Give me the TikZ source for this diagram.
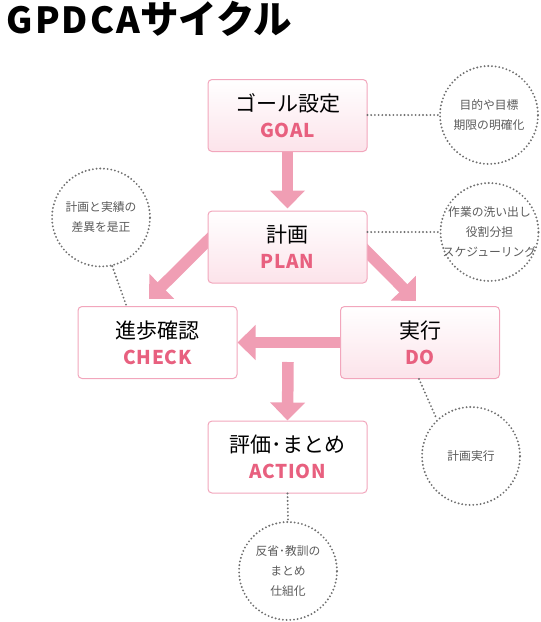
\documentclass[tikz,border=0pt]{standalone}
\usepackage{fontspec}
\usetikzlibrary{arrows.meta,calc,backgrounds}
\newfontfamily\jp{Noto Sans CJK JP}
\newfontfamily\jpancho[LetterSpace=4]{Noto Sans CJK JP}
\newfontfamily\jptitulo[LetterSpace=6]{Noto Sans CJK JP}
\definecolor{flecha}{HTML}{F09EB4}
\definecolor{borde}{HTML}{F2A6BC}
\definecolor{fondo}{HTML}{FCE3EA}
\definecolor{rosa}{HTML}{E8607F}
\definecolor{puntos}{HTML}{707070}
\definecolor{gris}{HTML}{5A5A5A}
\newcommand\etapa[2]{{\jp #1}\\{\jpancho\bfseries\color{rosa}\fontsize{19}{26}\selectfont #2}}

\begin{document}
\begin{tikzpicture}[x=1pt,y=-1pt,
    caja/.style={draw=borde,line width=1pt,rounded corners=4pt,fill=white,minimum width=159pt,
      minimum height=72pt,inner sep=0pt,align=center,font=\fontsize{21}{26}\selectfont},
    cajarosa/.style={caja,top color=white,bottom color=fondo},
    punteado/.style={draw=puntos,line width=2.1pt,line cap=round,dash pattern=on 0pt off 3.7pt},
    nota/.style={punteado,circle,minimum size=98pt,inner sep=0pt},
    textonota/.style={align=center,text=gris,inner sep=0pt,font=\jp\fontsize{11.8}{20}\selectfont},
    flechota/.style={draw=flecha,line width=11.5pt,-{Triangle[length=18pt,width=34pt]}}]
  \useasboundingbox (0,0) rectangle (541,622);
  \node[anchor=base west,font=\jptitulo\bfseries\fontsize{36}{40}\selectfont] (titulo) at (3,33)
    {GPDCA{\jp\bfseries\fontsize{38.5}{40}\selectfont サイクル}};

  % las cinco etapas
  \node[cajarosa] (goal) at (287.5,115.5) {\etapa{ゴール設定}{GOAL}};
  \node[cajarosa] (plan) at (287.5,247) {\etapa{計画}{PLAN}};
  \node[caja] (check) at (157.5,342.5) {\etapa{進歩確認}{CHECK}};
  \node[cajarosa] (do) at (420,342.5) {\etapa{実行}{DO}};
  \node[caja] (action) at (287.5,457) {\etapa{評価･まとめ}{ACTION}};
  \coordinate (eje) at (288,362);

  \begin{scope}[on background layer]
    \draw[flechota] (goal.center) -- ([yshift=2pt]plan.north);
    \draw[flechota] ($(plan.west)+(20,-26)$) -- ($(check.north)+(-8.5,-7)$);
    \draw[flechota] ($(plan.east)+(-21,-16)$) -- ($(do.north)+(-4,-5)$);
    \draw[flechota] (do.center) -- (check.east);
    \draw[flechota] (eje) -- (action.north);
  \end{scope}

  % notas punteadas
  \foreach \nombre/\lugar/\texto in {
      notaGoal/{489,115}/{目的や目標\\期限の明確化},
      notaPlan/{489.5,232}/{作業の洗い出し\\役割分担\\スケジューリング},
      notaCheck/{101,217.5}/{計画と実績の\\差異を是正},
      notaDo/{471,456}/{計画実行},
      notaAccion/{288,571}/{反省･教訓の\\まとめ\\仕組化}} {
    \node[nota] (\nombre) at (\lugar) {};
    \node[textonota] (\nombre-txt) at (\nombre) {\texto};
  }
  \draw[punteado] (goal.east |- notaGoal.west) -- (notaGoal.west);
  \draw[punteado] (plan.east |- notaPlan.west) -- (notaPlan.west);
  \draw[punteado] (notaCheck.-77) -- ([xshift=-31pt]check.north);
  \draw[punteado] ([xshift=-1pt]do.south) -- (notaDo.133);
  \draw[punteado] (action.south) -- (notaAccion.north);
\end{tikzpicture}
\end{document}
